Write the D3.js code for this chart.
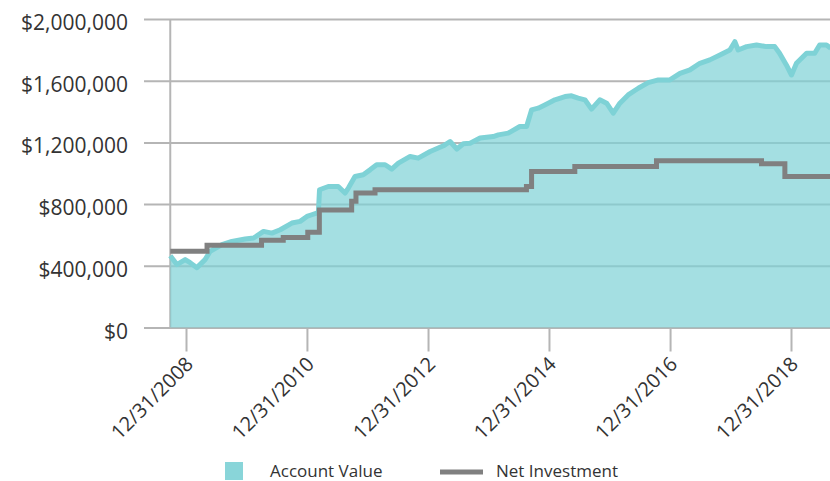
<!DOCTYPE html>
<html>
<head>
<meta charset="utf-8">
<script src="https://cdn.jsdelivr.net/npm/d3@7"></script>
<style>
  body { margin: 0; background: #fff; }
  text { font-family: "Open Sans", sans-serif; fill: #333; }
</style>
</head>
<body>
<svg id="chart" width="830" height="481"></svg>
<script>
// account value
const accountDates = [
  "2008-09-27", "2008-11-06", "2008-12-26", "2009-01-25", "2009-03-07", "2009-04-25",
  "2009-05-26", "2009-08-05", "2009-10-04", "2009-12-23", "2010-02-12", "2010-04-13",
  "2010-06-03", "2010-07-23", "2010-10-01", "2010-11-20", "2010-12-31", "2011-01-29",
  "2011-02-28", "2011-03-10", "2011-03-17", "2011-05-09", "2011-07-08", "2011-08-18",
  "2011-09-07", "2011-10-17", "2011-12-06", "2012-01-16", "2012-02-25", "2012-04-16",
  "2012-05-26", "2012-07-05", "2012-09-14", "2012-11-02", "2013-01-13", "2013-04-03",
  "2013-05-13", "2013-06-23", "2013-08-01", "2013-09-11", "2013-11-10", "2014-01-29",
  "2014-02-28", "2014-04-29", "2014-07-08", "2014-08-18", "2014-09-17", "2014-10-27",
  "2014-12-06", "2015-02-05", "2015-04-07", "2015-05-16", "2015-06-25", "2015-08-05",
  "2015-09-14", "2015-11-03", "2015-12-14", "2016-01-23", "2016-03-03", "2016-04-22",
  "2016-06-22", "2016-08-21", "2016-10-21", "2016-12-30", "2017-03-01", "2017-04-30",
  "2017-06-29", "2017-08-28", "2017-10-28", "2017-12-27", "2018-01-26", "2018-02-15",
  "2018-04-07", "2018-06-06", "2018-08-05", "2018-09-24", "2018-10-23", "2018-12-03",
  "2019-01-03", "2019-02-02", "2019-04-04", "2019-05-23", "2019-06-22", "2019-08-02",
  "2019-08-28"
];
const accountValues = [
  465000, 408000, 440000, 420000, 388000, 440000,
  494000, 537000, 558000, 574000, 580000, 623000,
  612000, 634000, 677000, 688000, 720000, 731000,
  742000, 745000, 893000, 914000, 914000, 872000,
  904000, 979000, 990000, 1022000, 1055000, 1055000,
  1027000, 1066000, 1109000, 1098000, 1141000, 1178000,
  1206000, 1157000, 1191000, 1195000, 1228000, 1238000,
  1249000, 1260000, 1303000, 1303000, 1411000, 1422000,
  1443000, 1476000, 1497000, 1502000, 1487000, 1476000,
  1416000, 1476000, 1454000, 1390000, 1454000, 1508000,
  1551000, 1588000, 1605000, 1605000, 1648000, 1670000,
  1713000, 1735000, 1767000, 1799000, 1853000, 1799000,
  1821000, 1832000, 1821000, 1821000, 1778000, 1702000,
  1637000, 1713000, 1778000, 1778000, 1832000, 1832000,
  1810000
];

// net investment changes (value holds until the next date)
const investDates = [
  "2008-09-27", "2009-05-07", "2010-04-01", "2010-08-10", "2011-01-05", "2011-03-16",
  "2011-09-27", "2011-10-23", "2012-02-15", "2014-08-17", "2014-09-17", "2015-06-05",
  "2016-10-10", "2018-07-06", "2018-11-24", "2019-09-30"
];
const investValues = [
  494000, 533000, 565000, 584000, 617000, 762000,
  818000, 872000, 893000, 914000, 1012000, 1044000,
  1081000, 1061000, 979000, 979000
];

const yTicks = [0, 400000, 800000, 1200000, 1600000, 2000000];
const xTickLabels = ["12/31/2008", "12/31/2010", "12/31/2012", "12/31/2014", "12/31/2016", "12/31/2018"];
const legendLabels = ["Account Value", "Net Investment"];

const teal = "#7ed2d6";
const grey = "#808080";

const parseDate = d3.timeParse("%Y-%m-%d");
const parseTick = d3.timeParse("%m/%d/%Y");

const account = accountDates.map((d, i) => ({ date: parseDate(d), value: accountValues[i] }));
const invest = investDates.map((d, i) => ({ date: parseDate(d), value: investValues[i] }));
const tickDates = xTickLabels.map(parseTick);

const svg = d3.select("#chart");

const x = d3.scaleTime()
  .domain([tickDates[0], tickDates[tickDates.length - 1]])
  .range([186, 791]);
const y = d3.scaleLinear().domain([0, 2000000]).range([327.5, 19]);

// horizontal grid + y labels
const yAxis = svg.append("g")
  .attr("transform", "translate(144,0)")
  .call(d3.axisLeft(y)
    .tickValues(yTicks)
    .tickSize(-(830 - 144))
    .tickPadding(16)
    .tickFormat(d3.format("$,.0f")));
yAxis.select(".domain").remove();
yAxis.selectAll("line").attr("stroke", "#b5b5b5").attr("stroke-width", 2);
yAxis.selectAll("text")
  .attr("font-size", 21)
  .attr("dy", "0.5em");

// left edge of the plot
const x0 = x(account[0].date);
svg.append("line")
  .attr("x1", x0).attr("x2", x0)
  .attr("y1", y(2000000)).attr("y2", y(0))
  .attr("stroke", "#b5b5b5").attr("stroke-width", 2);

// x axis ticks + rotated labels
const xAxis = svg.append("g")
  .attr("transform", `translate(0,${y(0)})`)
  .call(d3.axisBottom(x)
    .tickValues(tickDates)
    .tickSize(24)
    .tickFormat(d3.timeFormat("%m/%d/%Y")));
xAxis.select(".domain").remove();
xAxis.selectAll("line").attr("stroke", "#b5b5b5").attr("stroke-width", 2);
xAxis.selectAll("text")
  .attr("font-size", 20)
  .attr("text-anchor", "end")
  .attr("x", 0).attr("y", 0)
  .attr("dy", "0.35em")
  .attr("transform", "translate(3,33) rotate(-45)");

// account value area
const area = d3.area()
  .x(d => x(d.date))
  .y0(y(0))
  .y1(d => y(d.value));
svg.append("path")
  .datum(account)
  .attr("d", area)
  .attr("fill", teal)
  .attr("fill-opacity", 0.7);

const line = d3.line()
  .x(d => x(d.date))
  .y(d => y(d.value));
svg.append("path")
  .datum(account)
  .attr("d", line)
  .attr("fill", "none")
  .attr("stroke", teal)
  .attr("stroke-width", 5)
  .attr("stroke-linejoin", "round");

// net investment step line
svg.append("path")
  .datum(invest)
  .attr("d", line.curve(d3.curveStepAfter))
  .attr("fill", "none")
  .attr("stroke", grey)
  .attr("stroke-width", 5);

// legend
const legend = svg.append("g");
legend.append("rect")
  .attr("x", 225).attr("y", 462).attr("width", 18).attr("height", 18)
  .attr("fill", "#89d5d9");
legend.append("text")
  .attr("x", 270).attr("y", 477)
  .attr("font-size", 17)
  .text(legendLabels[0]);
legend.append("line")
  .attr("x1", 440).attr("x2", 483).attr("y1", 472).attr("y2", 472)
  .attr("stroke", grey).attr("stroke-width", 5);
legend.append("text")
  .attr("x", 496).attr("y", 477)
  .attr("font-size", 17)
  .text(legendLabels[1]);
</script>
</body>
</html>
